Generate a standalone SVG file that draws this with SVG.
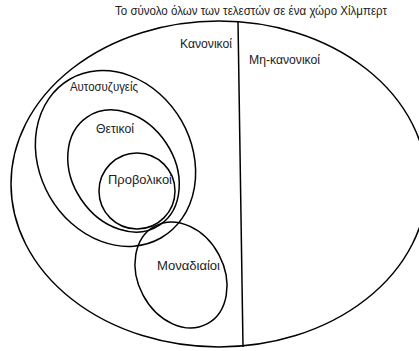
<svg xmlns="http://www.w3.org/2000/svg" width="419" height="351" viewBox="0 0 419 351">
<style>
.s{fill:none;stroke:#000;stroke-width:1.5}
text{font-family:"Liberation Sans",Arial,sans-serif;font-size:12px;fill:#222}
</style>
<rect width="419" height="351" fill="#fff"/>
<text x="115" y="15" textLength="272" lengthAdjust="spacingAndGlyphs">Το σύνολο όλων των τελεστών σε ένα χώρο Χίλμπερτ</text>
<g id="universe">
<ellipse class="s" cx="219" cy="184" rx="208" ry="163"/>
<text x="180" y="48" textLength="52" lengthAdjust="spacingAndGlyphs">Κανονικοί</text>
<text x="249" y="64" textLength="71" lengthAdjust="spacingAndGlyphs">Μη-κανονικοί</text>
</g>
<g id="connectors">
<line class="s" x1="238" y1="21" x2="243" y2="347"/>
</g>
<g id="selfadjoint">
<ellipse class="s" cx="115.5" cy="158.5" rx="91.5" ry="76" transform="rotate(60 115.5 158.5)"/>
<text x="70" y="91" textLength="68" lengthAdjust="spacingAndGlyphs">Αυτοσυζυγείς</text>
</g>
<g id="positive">
<ellipse class="s" cx="123.5" cy="171" rx="65" ry="51" transform="rotate(56 123.5 171)"/>
<text x="96" y="133" textLength="38" lengthAdjust="spacingAndGlyphs">Θετικοί</text>
</g>
<g id="projections">
<ellipse class="s" cx="137" cy="191" rx="38" ry="38"/>
<text x="108" y="184" textLength="64" lengthAdjust="spacingAndGlyphs">Προβολικοί</text>
</g>
<g id="unitary">
<ellipse class="s" cx="181" cy="275" rx="55.4" ry="43" transform="rotate(62 181 275)"/>
<text x="157" y="270" textLength="63" lengthAdjust="spacingAndGlyphs">Μοναδιαίοι</text>
</g>
</svg>
